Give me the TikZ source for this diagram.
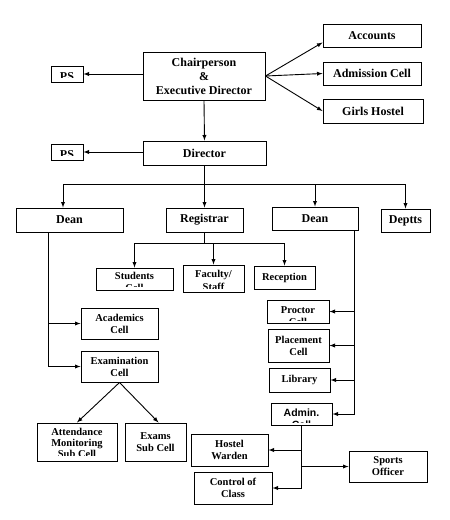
\documentclass[tikz,border=0pt]{standalone}
\usepackage{fontspec}
\setmainfont{Liberation Serif}
\newfontfamily\sansbold{Liberation Sans}

\tikzset{
box/.style={draw, line width=1pt, inner sep=1pt, align=center, font=\bfseries\fontsize{12}{14}\selectfont},
sbox/.style={box, font=\bfseries\fontsize{10.5}{12}\selectfont},
link/.style={line width=0.9pt},
arr/.style={line width=0.9pt, -latex},
cuttxt/.style={anchor=north, inner sep=0pt, draw=none, fill=none, minimum width=0pt, minimum height=0pt, align=center}
}

\begin{document}
\begin{tikzpicture}[x=1pt, y=-1pt]
\useasboundingbox (0,0) rectangle (450,520);

% TOP %
%%%%%%%%%%%%  Chairperson and Director %%%%%%%%%%%%%
\node[box, minimum width=122, minimum height=48] (chair) at (204,76)
{Chairperson\\\&\\Executive Director};
\node[box, minimum width=98, minimum height=23] (accounts) at (372,35.5) {Accounts};
\node[box, minimum width=98, minimum height=23] (admission) at (372,73.5) {Admission Cell};
\node[box, minimum width=100, minimum height=24] (girls) at (373,111) {Girls Hostel};
\node[box, minimum width=32, minimum height=16, path picture={
\clip (path picture bounding box.north west) rectangle ([yshift=4.5pt]path picture bounding box.south east);
\node[cuttxt, font=\bfseries\fontsize{12}{14}\selectfont] at ([yshift=-6.5pt]path picture bounding box.north) {PS};}] (psone) at (67,74) {};

\node[box, minimum width=123, minimum height=24] (director) at (204.5,153) {Director};
\node[box, minimum width=32, minimum height=16, path picture={
\clip (path picture bounding box.north west) rectangle ([yshift=4.5pt]path picture bounding box.south east);
\node[cuttxt, font=\bfseries\fontsize{12}{14}\selectfont] at ([yshift=-6.5pt]path picture bounding box.north) {PS};}] (pstwo) at (67,152) {};

%%%%%%%%%%%%  second row %%%%%%%%%%%%%
\node[box, minimum width=107, minimum height=24] (deanone) at (69.5,220) {Dean};
\node[box, minimum width=77, minimum height=24] (registrar) at (204.5,220) {Registrar};
\node[box, minimum width=86, minimum height=23] (deantwo) at (315,218.5) {Dean};
\node[box, minimum width=49, minimum height=23] (deptts) at (405.5,220.5) {Deptts};

% registrar cells
\node[sbox, minimum width=77, minimum height=22, path picture={
\clip (path picture bounding box.north west) rectangle ([yshift=4pt]path picture bounding box.south east);
\node[cuttxt, font=\bfseries\fontsize{10.5}{12}\selectfont] at ([yshift=-4pt]path picture bounding box.north) {Students\\Cell};}] (students) at (134.5,279) {};
\node[sbox, minimum width=61, minimum height=27, path picture={
\clip (path picture bounding box.north west) rectangle ([yshift=4pt]path picture bounding box.south east);
\node[cuttxt, font=\bfseries\fontsize{10.5}{13}\selectfont] at ([yshift=-5pt]path picture bounding box.north) {Faculty/\\Staff};}] (faculty) at (213.5,278.5) {};
\node[sbox, minimum width=61, minimum height=23] (reception) at (284.5,277.5) {Reception};

% left dean cells
\node[sbox, minimum width=77, minimum height=31] (academics) at (119.5,323.5) {Academics\\Cell};
\node[sbox, minimum width=77, minimum height=31] (exam) at (119.5,366.5) {Examination\\Cell};
\node[sbox, minimum width=80, minimum height=38, path picture={
\clip (path picture bounding box.north west) rectangle ([yshift=5.5pt]path picture bounding box.south east);
\node[cuttxt, font=\bfseries\fontsize{10.5}{11}\selectfont] at ([yshift=-5pt]path picture bounding box.north) {Attendance\\Monitoring\\Sub Cell};}] (attendance) at (77,442) {};
\node[sbox, minimum width=61, minimum height=38] (examsub) at (155.5,442) {Exams\\Sub Cell};

% right dean cells
\node[sbox, minimum width=62, minimum height=23, path picture={
\clip (path picture bounding box.north west) rectangle ([yshift=3pt]path picture bounding box.south east);
\node[cuttxt, font=\bfseries\fontsize{10.5}{12}\selectfont] at ([yshift=-6pt]path picture bounding box.north) {Proctor\\Cell};}] (proctor) at (298,311.5) {};
\node[sbox, minimum width=61, minimum height=33] (placement) at (298.5,345.5) {Placement\\Cell};
\node[sbox, minimum width=61, minimum height=24] (library) at (299.5,380) {Library};
\node[sbox, minimum width=61, minimum height=22, path picture={
\clip (path picture bounding box.north west) rectangle ([yshift=3pt]path picture bounding box.south east);
\node[cuttxt, font=\sansbold\bfseries\fontsize{10.5}{12}\selectfont] at ([yshift=-5pt]path picture bounding box.north) {Admin.\\Cell};}] (admin) at (301.5,414) {};

% admin cells
\node[sbox, minimum width=77, minimum height=32] (warden) at (229.5,450) {Hostel\\Warden};
\node[sbox, minimum width=78, minimum height=31] (sports) at (388,466.5) {Sports\\Officer};
\node[sbox, minimum width=78, minimum height=32] (control) at (233,488) {Control of\\Class};

%%%%%%%%%%%%  connectors %%%%%%%%%%%%%
\draw[arr] (psone -| chair.west) -- (psone.east);
\draw[arr] (chair.east) -- ([yshift=-7pt]accounts.west);
\draw[arr] (chair.east) -- (admission.west);
\draw[arr] (chair.east) -- (girls.west);
\draw[arr] (chair.south) -- (director.north);
\draw[arr] (pstwo -| director.west) -- (pstwo.east);

% director bus
\coordinate (dbus) at (204.5,184);
\coordinate (dleft) at ([xshift=-6.5pt]deanone.north);
\draw[link] (director.south) -- (dbus);
\draw[link] (dbus -| dleft) -- (dbus -| deptts);
\draw[arr] (dbus -| dleft) -- (dleft);
\draw[arr] (dbus) -- (registrar.north);
\draw[arr] (dbus -| deantwo) -- (deantwo.north);
\draw[arr] (dbus -| deptts) -- (deptts.north);

% registrar bus
\coordinate (rbus) at (204.5,243);
\draw[link] (registrar.south) -- (rbus);
\draw[link] (rbus -| students) -- (rbus -| reception);
\draw[arr] (rbus -| students) -- (students.north);
\draw[arr] (rbus -| faculty) -- (faculty.north);
\draw[arr] (rbus -| reception) -- (reception.north);

% left dean
\coordinate (dl) at ([xshift=-21.5pt]deanone.south);
\draw[arr] (dl) |- (exam.west);
\draw[arr] (dl |- academics.west) -- (academics.west);
\draw[arr] (exam.south) -- (attendance.north);
\draw[arr] (exam.south) -- ([xshift=3pt]examsub.north);

% right dean
\coordinate (dr) at ([xshift=39pt]deantwo.south);
\draw[arr] (dr) |- (admin.east);
\draw[arr] (dr |- proctor.east) -- (proctor.east);
\draw[arr] (dr |- placement.east) -- (placement.east);
\draw[arr] (dr |- library.east) -- (library.east);

% admin
\draw[link] (admin.south) -- (admin.south |- control.east);
\draw[arr] (admin.south |- warden.east) -- (warden.east);
\draw[arr] (admin.south |- sports.west) -- (sports.west);
\draw[arr] (admin.south |- control.east) -- (control.east);

\end{tikzpicture}
\end{document}
